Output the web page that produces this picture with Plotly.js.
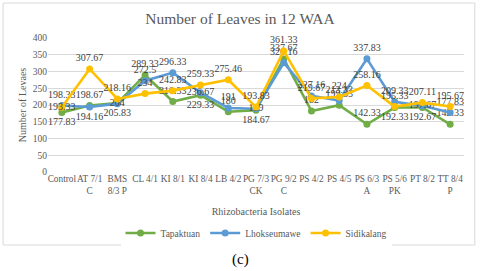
<!DOCTYPE html>
<html><head><meta charset="utf-8">
<script src="https://cdn.plot.ly/plotly-3.0.1.min.js"></script>
<style>html,body{margin:0;padding:0;background:#fff}#c{width:480px;height:271px}</style>
</head><body><div id="c"></div>
<script>
const categories = ["Control","AT 7/1<br>C","BMS<br>8/3 P","CL 4/1","KI 8/1","KI 8/4","LB 4/2","PG 7/3<br>CK","PG 9/2<br>C","PS 4/2","PS 4/5","PS 6/3<br>A","PS 5/6<br>PK","PT 8/2","TT 8/4<br>P"];
const tapaktuan   = [177.83,198.67,205.83,289.33,210.33,229.33,180,184.67,337.67,182,199.33,142.33,192.33,192.67,142.33];
const lhokseumawe = [198.33,194.16,204,272.5,296.33,236.67,191,189,326.16,227.16,213.33,337.83,209.33,197.67,177.83];
const sidikalang  = [193.33,307.67,218.16,234,242.83,259.33,275.46,193.83,361.33,219.67,224,258.16,195.33,207.11,195.67];
const yTicks = [0,50,100,150,200,250,300,350,400];

const serif = "'Times New Roman', 'Liberation Serif', serif";
const idx = categories.map((c,i)=>i);
const T="top center", B="bottom center", M="middle center";
const posT = [B,T,B,T,T,B,T,B,T,T,T,T,B,B,T];
const posL = [T,B,M,T,T,M,T,M,T,T,T,T,T,M,T];
const posS = [M,T,T,T,T,T,T,T,T,T,T,T,T,T,T];

function tr(name, y, color, pos){
  return {type:"scatter", mode:"lines+markers+text", name:name, x:idx, y:y,
    text:y.map(v=>String(v)), textposition:pos, cliponaxis:false,
    textfont:{family:serif,size:10,color:"#404040"},
    line:{color:color,width:2.6}, marker:{color:color,size:7}};
}
const data = [
  tr("Tapaktuan", tapaktuan, "#70AD47", posT),
  tr("Lhokseumawe", lhokseumawe, "#5B9BD5", posL),
  tr("Sidikalang", sidikalang, "#FFC000", posS)
];
const layout = {
  width:480, height:271,
  margin:{l:48,r:16,t:38,b:99},
  paper_bgcolor:"#fff", plot_bgcolor:"#fff",
  font:{family:serif,color:"#595959",size:10},
  showlegend:true,
  title:{text:"Number of Leaves in 12 WAA", font:{family:serif,size:15.5,color:"#595959"}, x:0.5, xanchor:"center", y:0.932, yanchor:"middle"},
  xaxis:{tickmode:"array", tickvals:idx, ticktext:categories, range:[-0.5,14.5], tickangle:0,
    showgrid:false, zeroline:false, showline:false, ticks:"",
    tickfont:{family:serif,size:9.3,color:"#595959"},
    title:{text:"Rhizobacteria Isolates", font:{family:serif,size:10,color:"#595959"}, standoff:12}},
  yaxis:{range:[0,400], tickmode:"array", tickvals:yTicks, showgrid:true, gridcolor:"#d9d9d9", gridwidth:1,
    zeroline:false, showline:false, ticks:"",
    tickfont:{family:serif,size:9.5,color:"#595959"},
    title:{text:"Number of Levaes", font:{family:serif,size:10,color:"#595959"}, standoff:4}},
  legend:{orientation:"h", x:0.5, xanchor:"center", y:-0.455, yanchor:"middle",
    font:{family:serif,size:9.5,color:"#595959"}, itemwidth:30},
  shapes:[{type:"rect", xref:"paper", yref:"paper", x0:-0.108, x1:1.026, y0:-0.545, y1:1.261,
    line:{color:"#d9d9d9",width:1}, fillcolor:"rgba(0,0,0,0)", layer:"below"}],
  annotations:[{text:"(c)", xref:"paper", yref:"paper", x:0.462, y:-0.65, xanchor:"center", yanchor:"middle",
    showarrow:false, font:{family:serif,size:15,color:"#000"}}]
};
Plotly.newPlot("c", data, layout, {displayModeBar:false, staticPlot:true});
</script></body></html>
